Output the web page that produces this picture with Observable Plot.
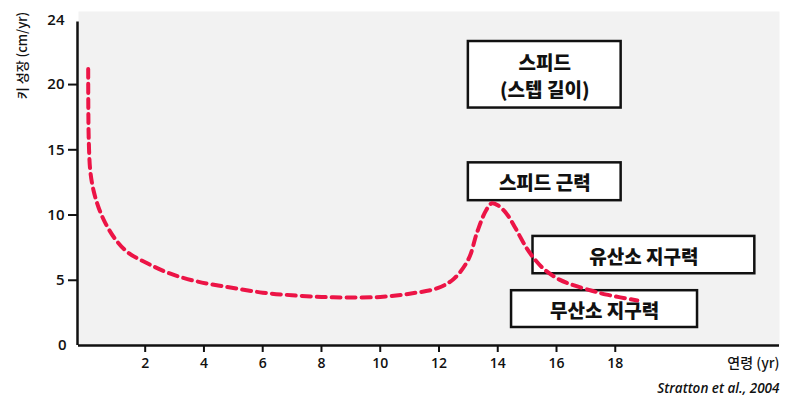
<!DOCTYPE html>
<html><head><meta charset="utf-8">
<script src="https://cdn.jsdelivr.net/npm/d3@7"></script>
<script src="https://cdn.jsdelivr.net/npm/@observablehq/plot@0.6"></script>
<style>
body{margin:0;background:#fff;font-family:"Open Sans","Noto Sans CJK KR",sans-serif}
svg{display:block}
</style></head><body><div id="chart"></div>
<script>
// Growth velocity curve (age in years, height growth cm/yr)
const ages  = [0.06, 0.065, 0.08, 0.13, 0.24, 0.41, 0.64, 1.0, 1.43, 2.07, 2.86, 3.78, 4.9, 6.0, 7.0, 8.0, 8.9, 10.0, 11.0, 11.95, 12.5, 13.0, 13.3, 13.6, 13.8, 14.0, 14.3, 14.6, 15.0, 15.3, 15.6, 16.1, 16.6, 17.2, 17.7, 18.75];
const rates = [21.2, 18.0, 15.7, 13.4, 11.9, 10.6, 9.4, 8.1, 7.1, 6.3, 5.5, 4.9, 4.45, 4.05, 3.85, 3.72, 3.68, 3.72, 3.97, 4.4, 5.1, 6.6, 8.7, 10.35, 10.9, 10.75, 10.1, 9.0, 7.4, 6.5, 5.8, 5.05, 4.6, 4.2, 3.9, 3.45];

const xTicks = [2, 4, 6, 8, 10, 12, 14, 16, 18];
const yTicks = [5, 10, 15, 20];
const yEndLabels = ["0", "24"];

// annotation boxes (data coordinates)
const boxLabels = ["스피드\n(스텝 길이)", "스피드 근력", "유산소 지구력", "무산소 지구력"];
const boxX1 = [13.0, 13.0, 15.2, 14.47];
const boxX2 = [18.2, 18.2, 22.75, 20.8];
const boxY1 = [18.2, 11.1, 5.5, 1.38];
const boxY2 = [23.3, 14.0, 8.36, 4.2];

const xDomain = [-0.27, 23.59];
const yDomain = [0, 25.6];

const curve = ages.map((a, i) => ({age: a, rate: rates[i]}));
const boxes = boxLabels.map((t, i) => ({t, x1: boxX1[i], x2: boxX2[i], y1: boxY1[i], y2: boxY2[i]}));

const chart = Plot.plot({
  width: 800, height: 416,
  marginLeft: 78, marginRight: 21, marginTop: 11, marginBottom: 71,
  style: {fontFamily: '"Open Sans","Noto Sans CJK KR",sans-serif', background: "#fff"},
  x: {domain: xDomain},
  y: {domain: yDomain},
  marks: [
    Plot.frame({fill: "#f2f2f2", stroke: null}),
    Plot.axisY(yTicks, {tickSize: 10, tickPadding: 4, fontSize: 15, fontWeight: 600, stroke: "#111", strokeWidth: 2, color: "#111", label: null}),
    Plot.text([yEndLabels[0]], {y: [0], frameAnchor: "left", dx: -12, textAnchor: "end", fontSize: 15, fontWeight: 600, fill: "#111"}),
    Plot.text([yEndLabels[1]], {y: [yDomain[1]], frameAnchor: "left", dx: -14, dy: 9, textAnchor: "end", fontSize: 15, fontWeight: 600, fill: "#111"}),
    Plot.axisX(xTicks, {tickSize: 7, tickPadding: 6, fontSize: 14, fontWeight: 600, stroke: "#111", strokeWidth: 2, color: "#111", label: null}),
    Plot.ruleY([0], {stroke: "#111", strokeWidth: 2.5}),
    Plot.ruleX([xDomain[0]], {y1: 0, y2: 24.8, stroke: "#111", strokeWidth: 2.5, dx: -1}),
    Plot.rect(boxes, {x1: "x1", x2: "x2", y1: "y1", y2: "y2", fill: "#fff", stroke: "#111", strokeWidth: 2.5}),
    Plot.text(boxes, {x: d => (d.x1 + d.x2) / 2, y: d => (d.y1 + d.y2) / 2, text: "t", fontSize: 19, fontWeight: 900, lineHeight: 1.4, fill: "#111", fontFamily: '"Noto Sans CJK KR",sans-serif'}),
    Plot.line(curve, {x: "age", y: "rate", curve: "catmull-rom", stroke: "#ec1446", strokeWidth: 4, strokeDasharray: "9,6"}),
    Plot.text(["연령 (yr)"], {frameAnchor: "bottom-right", dy: 22, fontSize: 14, fontWeight: 500, fill: "#111", textAnchor: "end", fontFamily: '"Noto Sans CJK KR",sans-serif'}),
    Plot.text(["Stratton et al., 2004"], {frameAnchor: "bottom-right", dy: 47, fontSize: 13.5, fontWeight: 600, fill: "#111", textAnchor: "end", fontStyle: "italic"}),
    Plot.text(["키 성장 (cm/yr)"], {frameAnchor: "top-left", dx: -61, dy: 44, rotate: -90, textAnchor: "middle", fontSize: 13, fontWeight: 500, fill: "#111", fontFamily: '"Noto Sans CJK KR",sans-serif'})
  ]
});
document.getElementById("chart").appendChild(chart);
</script></body></html>
